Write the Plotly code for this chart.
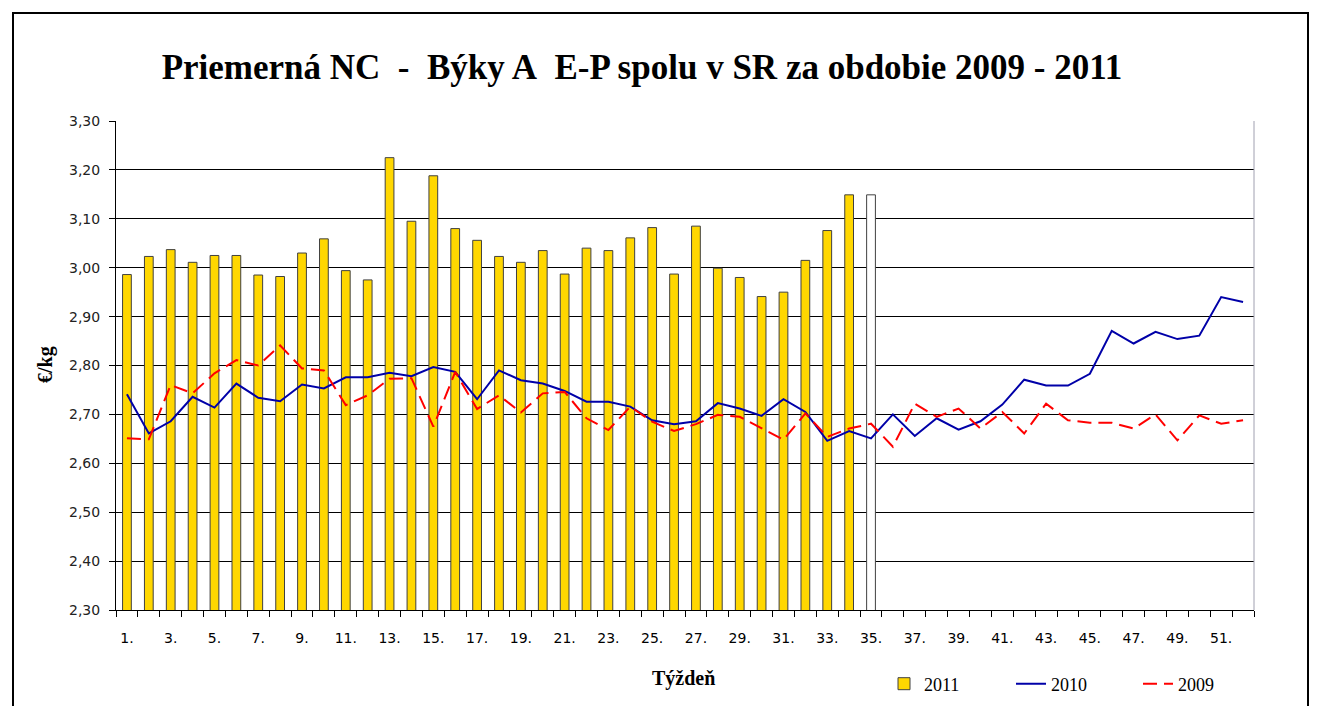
import plotly.graph_objects as go

weeks = list(range(1, 53))
weeks_2011 = list(range(1, 36))
v2011 = [2.986, 3.023, 3.037, 3.011, 3.025, 3.025, 2.985, 2.982, 3.030, 3.059,
         2.994, 2.975, 3.225, 3.095, 3.188, 3.080, 3.056, 3.023, 3.011, 3.035,
         2.987, 3.040, 3.035, 3.061, 3.082, 2.987, 3.085, 2.999, 2.980, 2.941,
         2.950, 3.015, 3.076, 3.149, 3.149]
bar_colors = ["#FFD700"] * 34 + ["#FFFFFF"]
v2010 = [2.741, 2.661, 2.686, 2.736, 2.714, 2.763, 2.734, 2.727, 2.761, 2.753,
         2.776, 2.776, 2.785, 2.778, 2.797, 2.787, 2.731, 2.790, 2.770, 2.763,
         2.748, 2.726, 2.726, 2.716, 2.688, 2.680, 2.686, 2.723, 2.712, 2.697,
         2.731, 2.705, 2.646, 2.666, 2.651, 2.700, 2.656, 2.692, 2.669, 2.686,
         2.720, 2.771, 2.759, 2.759, 2.783, 2.871, 2.845, 2.869, 2.854, 2.861,
         2.940, 2.930]
v2009 = [2.651, 2.649, 2.760, 2.743, 2.784, 2.811, 2.800, 2.841, 2.794, 2.790,
         2.719, 2.739, 2.773, 2.774, 2.675, 2.787, 2.711, 2.739, 2.704, 2.743,
         2.746, 2.692, 2.668, 2.716, 2.685, 2.666, 2.680, 2.699, 2.695, 2.671,
         2.648, 2.702, 2.654, 2.671, 2.681, 2.634, 2.722, 2.695, 2.712, 2.671,
         2.705, 2.661, 2.722, 2.688, 2.683, 2.683, 2.671, 2.700, 2.647, 2.698,
         2.681, 2.688]
tick_weeks = list(range(1, 53, 2))
tick_text = [f"{w}." for w in tick_weeks]

serif = "Liberation Serif, Times New Roman, serif"
sans = "DejaVu Sans, Verdana, sans-serif"

# page body has an 8px margin; figure placed at (8,8)
W, H = 1309, 698
L, T, R, B = 108, 113, 63, 96
PW, PH = W - L - R, H - T - B


def px(xf):
    return (xf - 8 - L) / PW


def py(yf):
    return (H - B - (yf - 8)) / PH


fig = go.Figure()
fig.add_trace(go.Bar(x=weeks_2011, y=v2011, name="2011", width=0.4,
                     marker=dict(color=bar_colors, line=dict(color="#404040", width=1))))
fig.add_trace(go.Scatter(x=weeks, y=v2010, name="2010", mode="lines",
                         line=dict(color="#0000A8", width=2)))
fig.add_trace(go.Scatter(x=weeks, y=v2009, name="2009", mode="lines",
                         line=dict(color="#FF0000", width=2, dash="14px,7px")))

fig.update_layout(
    width=W, height=H,
    margin=dict(l=L, r=R, t=T, b=B, autoexpand=False),
    paper_bgcolor="white", plot_bgcolor="white",
    separators=",.",
    title=dict(text="Priemerná NC\u00a0 -\u00a0 Býky A\u00a0 E-P spolu v SR za obdobie 2009 - 2011",
               x=(642 - 8) / W, xanchor="center", y=1 - (67 - 8) / H, yanchor="middle",
               font=dict(family=serif, size=35, color="black", weight="bold")),
    showlegend=True,
    legend=dict(orientation="h", x=px(884), xanchor="left", y=py(684), yanchor="middle",
                font=dict(family=serif, size=18, color="black"), bgcolor="rgba(0,0,0,0)",
                traceorder="normal", entrywidth=82, entrywidthmode="pixels"),
    xaxis=dict(range=[0.5, 52.5], tickmode="array", tickvals=tick_weeks, ticktext=tick_text,
               ticks="", showgrid=False, zeroline=False, showline=True, linecolor="black",
               linewidth=1, tickfont=dict(family=sans, size=14, color="black"),
               ticklabelstandoff=15,
               minor=dict(tickmode="array", tickvals=[w + 0.5 for w in [0] + weeks],
                          ticks="outside", ticklen=6, tickcolor="black", showgrid=False)),
    yaxis=dict(range=[2.30, 3.30], tickmode="linear", tick0=2.30, dtick=0.1, tickformat=".2f",
               ticks="outside", ticklen=6, tickcolor="black", showgrid=True, gridcolor="black",
               gridwidth=1, zeroline=False, showline=True, linecolor="black", linewidth=1,
               ticklabelstandoff=6,
               tickfont=dict(family=sans, size=14, color="#222222")),
    annotations=[
        dict(text="€/kg", xref="paper", yref="paper", x=px(45), y=py(365),
             showarrow=False, textangle=-90, xanchor="center", yanchor="middle",
             font=dict(family=serif, size=20, color="black", weight="bold")),
        dict(text="Týždeň", xref="paper", yref="paper", x=px(683), y=py(678),
             showarrow=False, xanchor="center", yanchor="middle",
             font=dict(family=serif, size=20, color="black", weight="bold")),
    ],
    shapes=[
        dict(type="rect", xref="paper", yref="paper", x0=px(13), x1=px(1308),
             y0=py(730), y1=py(13), line=dict(color="black", width=2),
             layer="below"),
        dict(type="line", xref="paper", yref="paper", x0=1, x1=1, y0=0, y1=1,
             line=dict(color="#A0A0B0", width=1)),
    ],
)

fig.write_html("out.html")
